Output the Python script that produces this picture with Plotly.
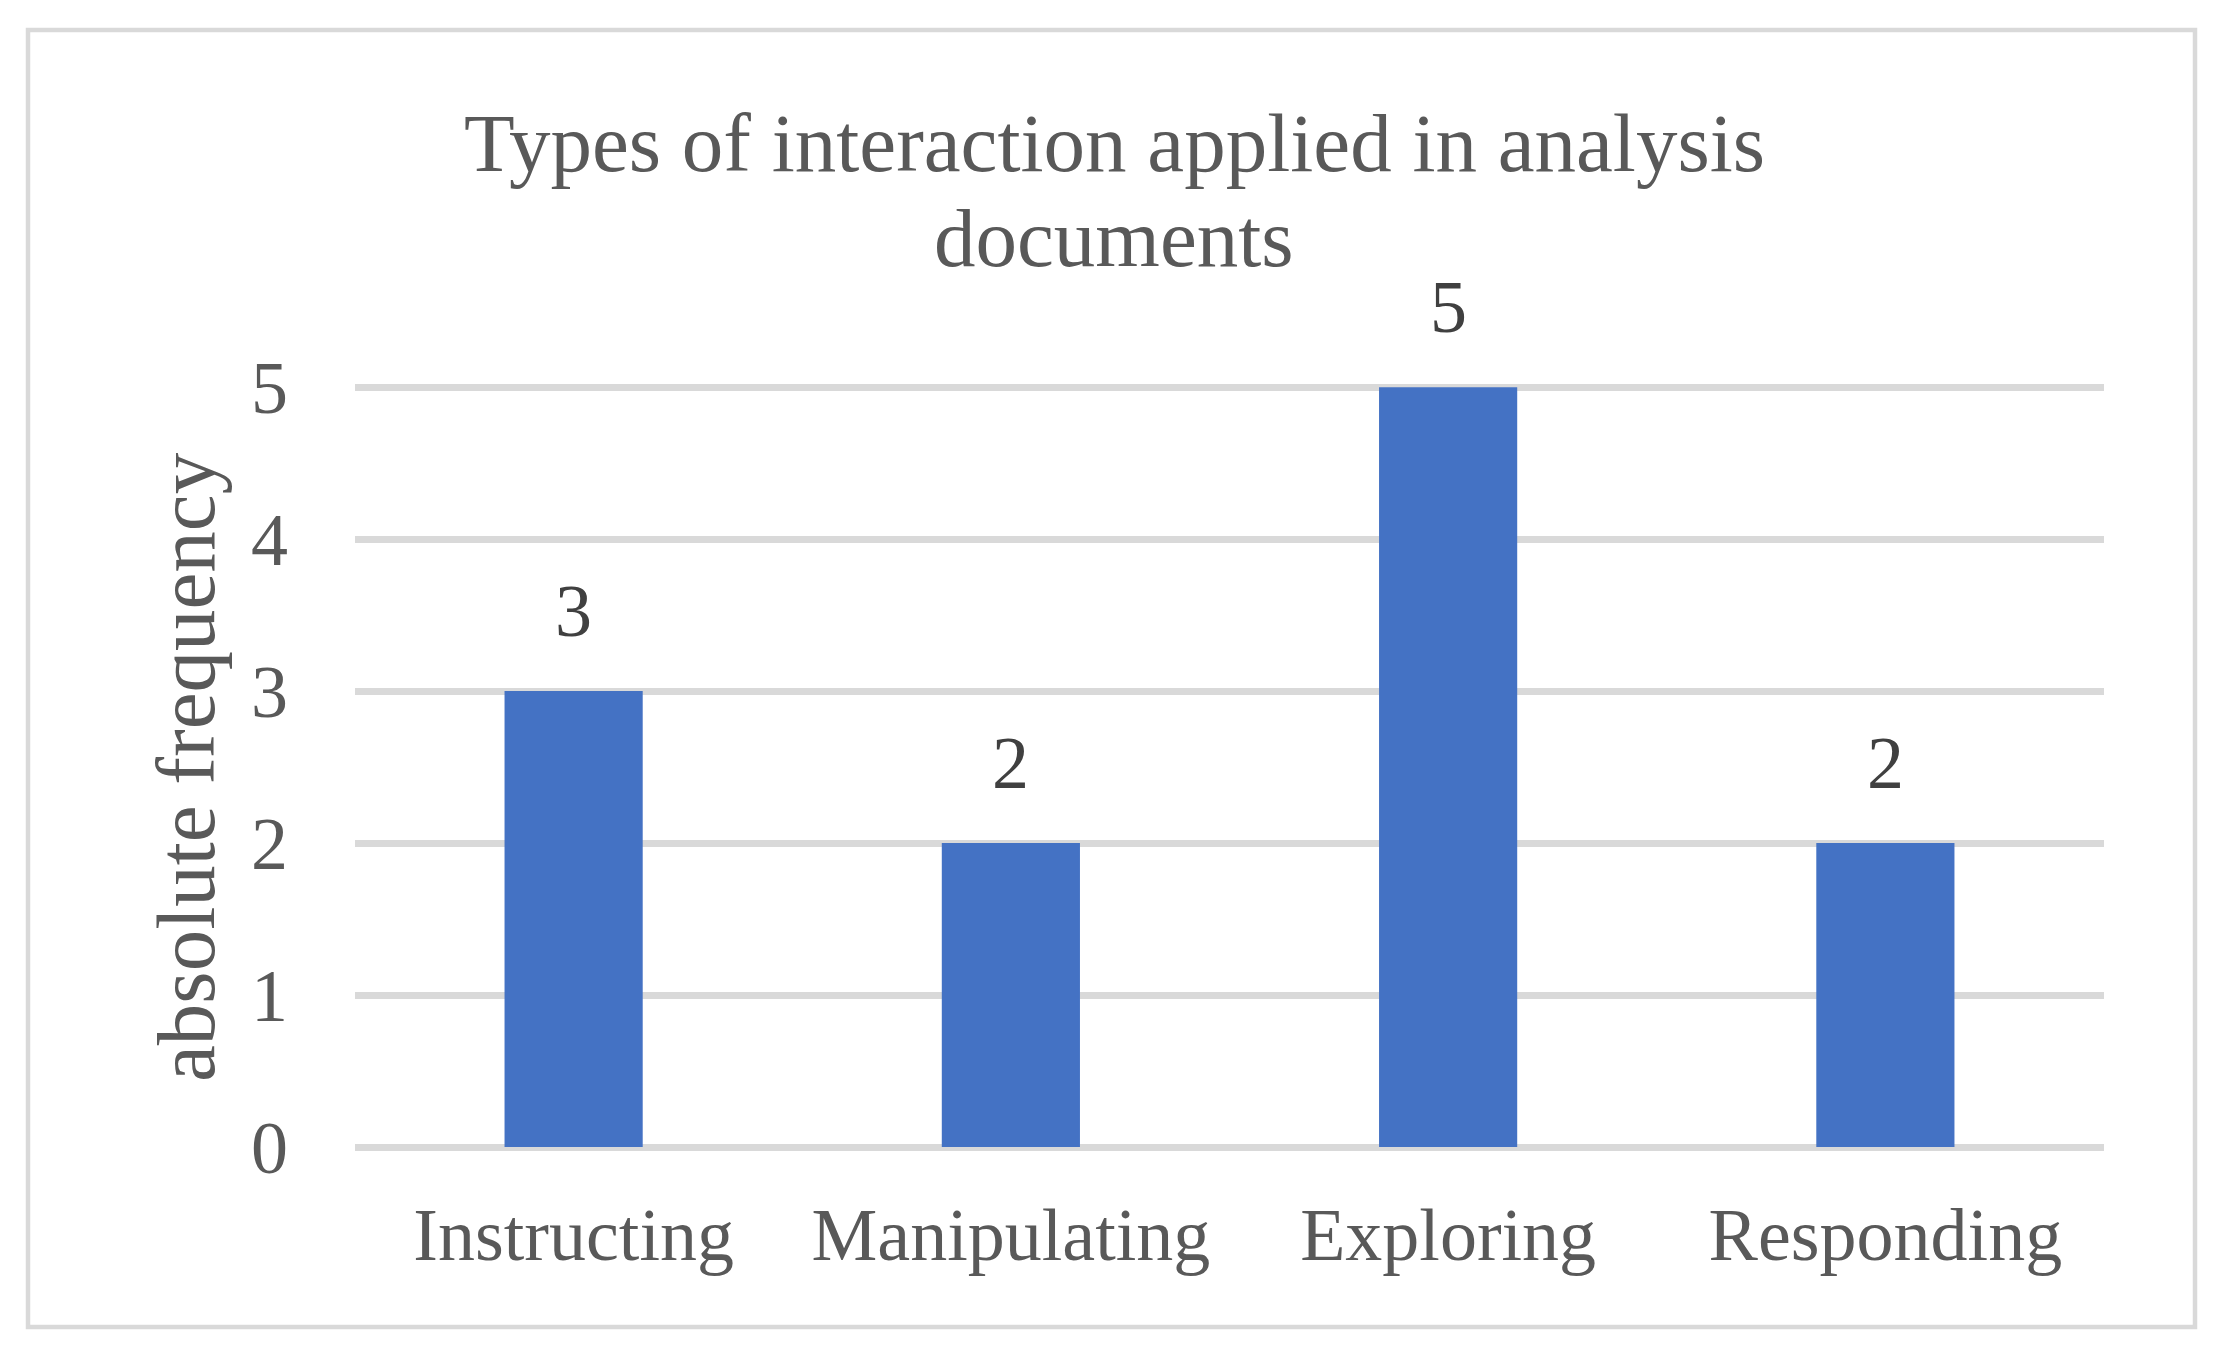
import plotly.graph_objects as go

categories = ["Instructing", "Manipulating", "Exploring", "Responding"]
values = [3, 2, 5, 2]
y_ticks = [0, 1, 2, 3, 4, 5]
title_lines = ["Types of interaction applied in analysis", "documents"]
y_title = "absolute frequency"

FONT = "Liberation Serif, Times New Roman, serif"
GREY = "#595959"
GRID = "#d9d9d9"

OFF = 8  # page body margin
Y_TOP = 5.1
UNIT = 152  # px per unit in reference
W, H = 2225 - OFF, 1357 - OFF
L, R, B = 355 - OFF, 121, 210
T = round(387 - OFF - (Y_TOP - 5) * UNIT)
pw, ph = W - L - R, H - T - B

def px(x):
    return (x - OFF - L) / pw

def py(y):
    return (H - B - (y - OFF)) / ph

fig = go.Figure()
fig.add_trace(go.Bar(
    x=categories, y=values,
    marker=dict(color="#4472C4", line=dict(width=0)),
    width=0.316, hoverinfo="x+y",
))

annotations = []
for c, v in zip(categories, values):
    annotations.append(dict(
        x=c, y=v, xref="x", yref="y", text=str(v), showarrow=False,
        yanchor="bottom", yshift=37,
        font=dict(family=FONT, size=74, color="#404040"),
    ))
annotations.append(dict(x=px(1114), y=py(143), xref="paper", yref="paper", text=title_lines[0],
                        showarrow=False, xanchor="center", yanchor="middle",
                        font=dict(family=FONT, size=83, color=GREY)))
annotations.append(dict(x=px(1114), y=py(238), xref="paper", yref="paper", text=title_lines[1],
                        showarrow=False, xanchor="center", yanchor="middle",
                        font=dict(family=FONT, size=83, color=GREY)))
annotations.append(dict(x=px(186), y=py(767), xref="paper", yref="paper", text=y_title,
                        showarrow=False, textangle=-90, xanchor="center", yanchor="middle",
                        font=dict(family=FONT, size=83, color=GREY)))

fig.update_layout(
    width=W, height=H,
    margin=dict(l=L, r=R, t=T, b=B, autoexpand=False),
    paper_bgcolor="white", plot_bgcolor="white",
    showlegend=False,
    annotations=annotations,
    bargap=0.684,
    font=dict(family=FONT, color=GREY),
    shapes=[dict(type="rect", xref="paper", yref="paper",
                 x0=px(28), x1=px(2195), y0=py(1327), y1=py(30),
                 line=dict(color=GRID, width=4.5), fillcolor="rgba(0,0,0,0)", layer="below")],
)
fig.update_xaxes(
    type="category", categoryorder="array", categoryarray=categories,
    showgrid=False, zeroline=False, showline=False, ticks="",
    tickfont=dict(family=FONT, size=74, color=GREY),
    ticklabelstandoff=38, automargin=False,
)
fig.update_yaxes(
    range=[0, Y_TOP], tickmode="array", tickvals=y_ticks, ticktext=[str(t) for t in y_ticks],
    showgrid=True, gridcolor=GRID, gridwidth=7,
    zeroline=True, zerolinecolor=GRID, zerolinewidth=7,
    showline=False, ticks="",
    tickfont=dict(family=FONT, size=74, color=GREY),
    ticklabelstandoff=66, automargin=False,
)

fig.write_html("out.html")
